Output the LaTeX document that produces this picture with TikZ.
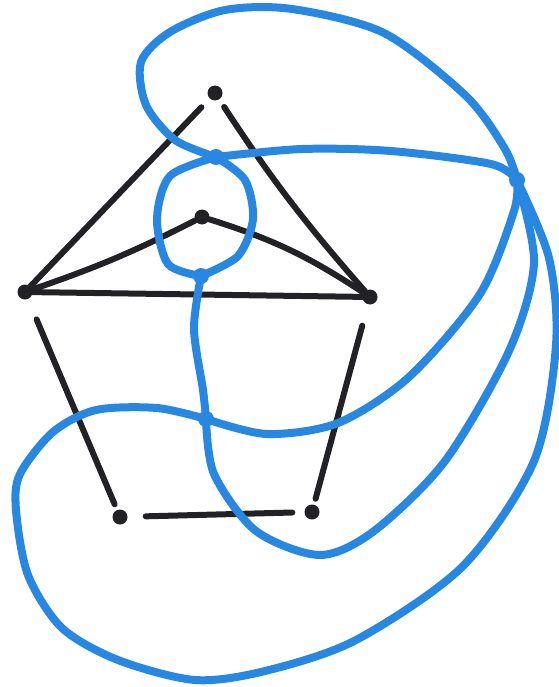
\documentclass[tikz,border=0pt]{standalone}
\begin{document}
\begin{tikzpicture}[x=1pt,y=-1pt,
  vtx/.style={circle,fill=inkblack,inner sep=0pt,minimum size=15pt},
  dvtx/.style={circle,fill=dualblue,inner sep=0pt,minimum size=16pt},
  pedge/.style={draw=inkblack,line width=6pt,line cap=round,line join=round},
  dedge/.style={draw=dualblue,line width=8pt,line cap=round,line join=round}]
\definecolor{inkblack}{RGB}{34,34,38}
\definecolor{dualblue}{RGB}{40,136,225}
\useasboundingbox (0,0) rectangle (558,687);
% primal vertices
\node[vtx] (t) at (215,93) {};
\node[vtx] (m) at (202,217) {};
\node[vtx] (l) at (25,292) {};
\node[vtx] (r) at (370,297) {};
\node[vtx] (bl) at (120,517) {};
\node[vtx] (br) at (312,512) {};
% primal edges
\draw[pedge,shorten <=12pt] (t) -- (l);
\draw[pedge,shorten <=9pt] (t) to[bend right=4] (r);
\draw[pedge] (m) to[bend left=4] (l);
\draw[pedge] (m) to[bend left=8] (r);
\draw[pedge] (l) -- (r);
\draw[pedge,shorten <=22pt,shorten >=6pt] (l) -- (bl);
\draw[pedge,shorten <=22pt,shorten >=6pt] (r) -- (br);
\draw[pedge,shorten <=18pt,shorten >=12pt] (bl) -- (br);
% dual vertices
\node[dvtx] (a) at (216,157) {};
\node[dvtx] (b) at (201,276) {};
\node[dvtx] (c) at (206,419) {};
\node[dvtx] (d) at (517,180) {};
% dual edges
\draw[dedge] plot[smooth] coordinates {(a) (175,140) (146,105) (141,62) (170,32) (225,10) (292,9) (384,33) (466,96) (505,149) (d)};
\draw[dedge] plot[smooth] coordinates {(a) (302,149) (391,151) (491,164) (d)};
\draw[dedge] plot[smooth] coordinates {(a) (170,176) (157,219) (168,264) (b)};
\draw[dedge] plot[smooth] coordinates {(a) (245,180) (253,219) (238,256) (b)};
\draw[dedge] plot[smooth] coordinates {(b) (194,329) (203,390) (c)};
\draw[dedge] plot[smooth] coordinates {(c) (267,434) (338,423) (409,377) (480,294) (514,211) (d)};
\draw[dedge] plot[smooth] coordinates {(c) (214,474) (256,531) (320,555) (374,531) (445,461) (509,351) (534,263) (d)};
\draw[dedge] plot[smooth] coordinates {(c) (157,408) (96,410) (53,432) (20,474) (16,510) (28,575) (62,628) (118,660) (195,680) (265,671) (356,640) (463,566) (534,461) (556,345) (549,258) (d)};
\end{tikzpicture}
\end{document}
